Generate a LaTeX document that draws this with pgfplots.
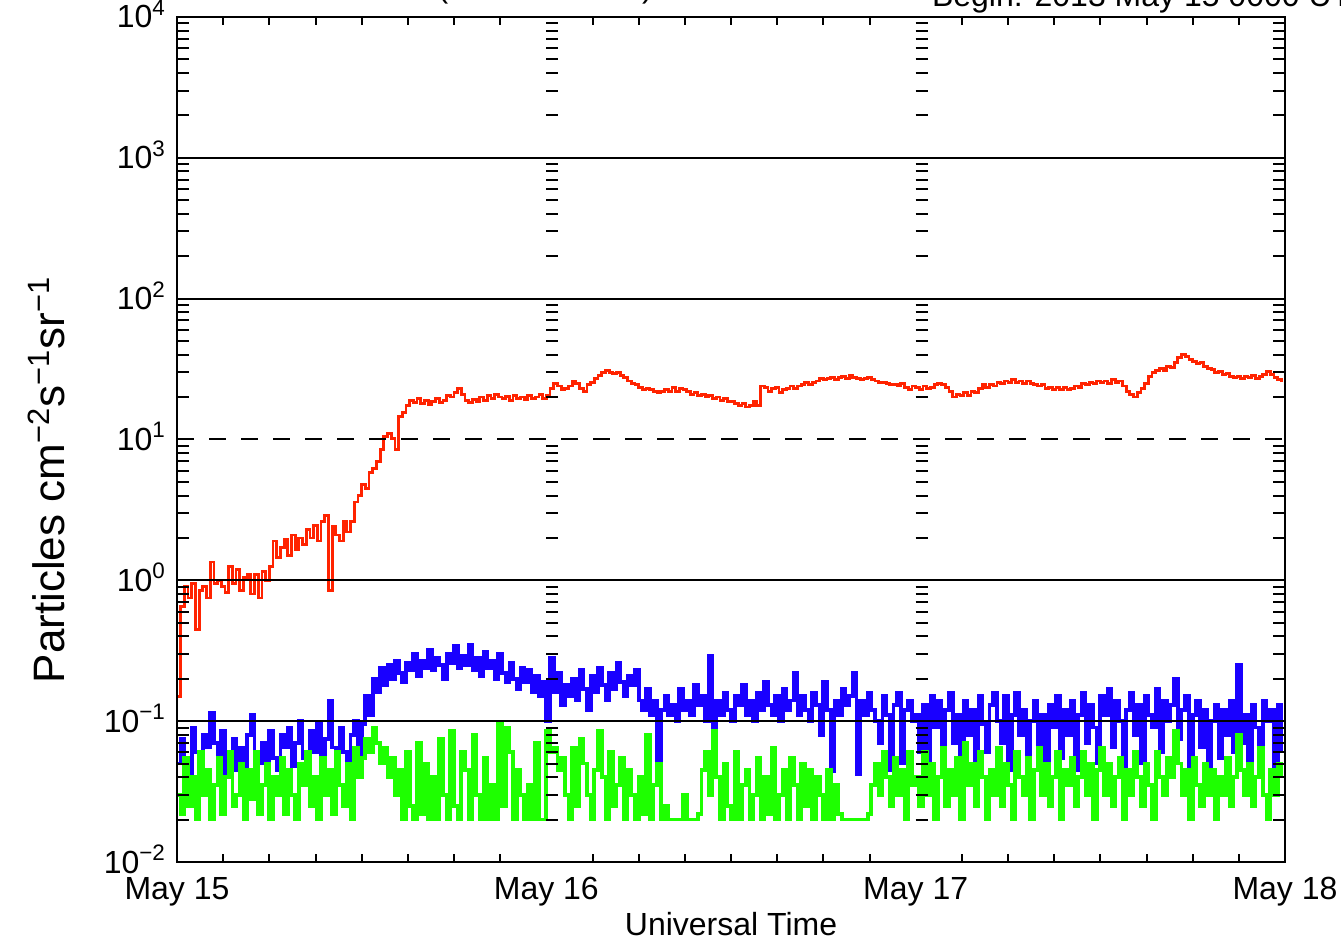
\documentclass[border=0pt]{standalone}
\usepackage{pgfplots}
\pgfplotsset{compat=1.18}
\usepackage{pgfplotstable}
\usepackage{fontspec}
\setmainfont{Liberation Sans}
\definecolor{pred}{RGB}{255,35,0}
\definecolor{pblue}{RGB}{25,0,255}
\definecolor{pgreen}{RGB}{30,255,0}
\newcommand\tickfont{\fontsize{16}{19}\selectfont}

\pgfplotstableread[header=false,row sep=\\]{
0.15\\0.65\\0.90\\0.75\\0.95\\0.45\\0.85\\0.90\\0.75\\1.35\\
0.95\\1.00\\0.90\\0.82\\1.25\\0.95\\1.20\\0.85\\1.05\\1.10\\
0.80\\1.10\\0.75\\1.15\\1.00\\1.25\\1.90\\1.45\\1.70\\1.95\\
1.50\\2.10\\1.65\\2.00\\1.80\\2.30\\2.00\\2.45\\1.90\\2.60\\
2.90\\0.85\\2.40\\2.10\\1.90\\2.60\\2.20\\2.60\\3.60\\4.00\\
4.80\\4.50\\5.80\\6.20\\7.00\\8.50\\10.5\\11.0\\10.2\\8.5\\
14.5\\15.5\\17.5\\19.0\\18.2\\19.5\\18.0\\19.0\\17.8\\18.5\\
19.5\\18.2\\19.0\\20.5\\20.0\\21.5\\23.0\\21.0\\19.0\\18.2\\
19.2\\18.5\\20.0\\19.0\\20.5\\19.5\\21.0\\20.0\\19.5\\20.2\\
19.0\\20.5\\19.5\\20.0\\19.2\\20.5\\19.5\\20.0\\21.0\\19.5\\
20.5\\23.0\\25.0\\24.0\\22.5\\23.0\\24.0\\26.0\\25.0\\23.0\\
22.0\\24.5\\25.5\\27.0\\28.5\\30.0\\31.0\\30.0\\29.5\\30.0\\
28.5\\27.5\\26.0\\25.0\\24.5\\23.5\\22.5\\23.0\\22.5\\22.0\\
21.5\\22.0\\22.5\\22.0\\23.5\\22.0\\23.0\\22.5\\22.0\\21.0\\
21.5\\20.5\\21.0\\20.0\\20.5\\19.5\\20.0\\19.0\\19.5\\18.5\\
18.5\\18.0\\17.5\\18.0\\17.0\\17.5\\18.5\\17.5\\24.0\\23.5\\
22.0\\23.0\\23.5\\21.5\\22.5\\23.0\\24.0\\23.0\\24.0\\24.5\\
25.5\\24.5\\25.5\\26.0\\27.0\\26.5\\27.0\\27.5\\26.5\\27.5\\
28.0\\27.0\\28.5\\27.5\\27.0\\26.5\\27.0\\27.5\\26.5\\26.0\\
25.5\\25.5\\25.0\\24.5\\24.5\\24.0\\25.0\\23.5\\22.5\\24.0\\
23.5\\22.5\\24.0\\23.0\\23.5\\24.5\\25.0\\24.5\\23.5\\22.0\\
20.0\\21.0\\20.5\\21.5\\20.5\\22.0\\21.5\\23.0\\24.5\\23.5\\
24.5\\24.0\\25.5\\25.0\\26.0\\25.5\\26.5\\25.5\\26.0\\25.0\\
26.0\\25.0\\24.5\\24.0\\24.5\\23.0\\23.5\\22.5\\23.5\\22.5\\
23.5\\22.5\\23.0\\24.0\\23.5\\25.0\\24.5\\25.5\\25.0\\26.0\\
25.5\\26.0\\25.0\\26.5\\25.5\\26.0\\24.0\\22.0\\21.0\\20.0\\
21.5\\23.0\\25.0\\28.0\\30.0\\31.0\\32.0\\31.0\\33.0\\32.5\\
35.0\\38.0\\40.0\\39.0\\37.0\\36.0\\34.5\\35.0\\33.0\\32.0\\
31.5\\30.0\\30.5\\29.0\\29.5\\28.0\\27.5\\28.0\\27.0\\28.0\\
27.5\\28.5\\27.0\\28.0\\29.0\\30.5\\29.0\\27.5\\26.5\\25.5\\
}\reddata

\pgfplotstableread[header=false,row sep=\\]{
0.050\\0.075\\0.055\\0.042\\0.090\\0.060\\0.045\\0.080\\0.065\\0.115\\
0.070\\0.050\\0.085\\0.042\\0.060\\0.075\\0.045\\0.065\\0.042\\0.080\\
0.110\\0.060\\0.050\\0.070\\0.042\\0.085\\0.055\\0.045\\0.080\\0.065\\
0.090\\0.048\\0.070\\0.100\\0.055\\0.042\\0.085\\0.060\\0.095\\0.045\\
0.075\\0.140\\0.065\\0.045\\0.090\\0.060\\0.042\\0.080\\0.100\\0.055\\
0.095\\0.150\\0.110\\0.200\\0.160\\0.240\\0.180\\0.250\\0.200\\0.270\\
0.220\\0.190\\0.260\\0.230\\0.300\\0.210\\0.270\\0.240\\0.320\\0.230\\
0.280\\0.250\\0.200\\0.300\\0.260\\0.340\\0.240\\0.290\\0.250\\0.350\\
0.230\\0.280\\0.210\\0.310\\0.240\\0.270\\0.200\\0.300\\0.220\\0.190\\
0.260\\0.200\\0.170\\0.240\\0.190\\0.230\\0.160\\0.210\\0.150\\0.190\\
0.100\\0.280\\0.160\\0.220\\0.130\\0.180\\0.150\\0.200\\0.140\\0.230\\
0.170\\0.120\\0.210\\0.160\\0.240\\0.180\\0.140\\0.220\\0.170\\0.260\\
0.190\\0.150\\0.210\\0.180\\0.230\\0.140\\0.120\\0.170\\0.110\\0.140\\
0.046\\0.120\\0.150\\0.110\\0.130\\0.100\\0.170\\0.120\\0.140\\0.110\\
0.180\\0.130\\0.150\\0.100\\0.290\\0.078\\0.140\\0.110\\0.160\\0.120\\
0.100\\0.150\\0.130\\0.180\\0.110\\0.140\\0.100\\0.160\\0.120\\0.190\\
0.130\\0.110\\0.150\\0.100\\0.170\\0.120\\0.140\\0.220\\0.110\\0.150\\
0.120\\0.100\\0.160\\0.130\\0.080\\0.190\\0.120\\0.044\\0.140\\0.110\\
0.170\\0.130\\0.150\\0.220\\0.042\\0.140\\0.110\\0.160\\0.120\\0.100\\
0.070\\0.150\\0.110\\0.045\\0.130\\0.160\\0.050\\0.120\\0.140\\0.100\\
0.110\\0.060\\0.130\\0.045\\0.150\\0.090\\0.140\\0.055\\0.120\\0.160\\
0.070\\0.110\\0.045\\0.140\\0.080\\0.120\\0.050\\0.150\\0.095\\0.060\\
0.130\\0.160\\0.100\\0.070\\0.150\\0.045\\0.110\\0.160\\0.080\\0.120\\
0.050\\0.100\\0.140\\0.065\\0.110\\0.045\\0.130\\0.090\\0.150\\0.055\\
0.120\\0.080\\0.140\\0.045\\0.110\\0.160\\0.070\\0.130\\0.090\\0.050\\
0.150\\0.110\\0.170\\0.065\\0.140\\0.100\\0.045\\0.120\\0.160\\0.080\\
0.130\\0.050\\0.150\\0.110\\0.090\\0.170\\0.060\\0.140\\0.100\\0.130\\
0.200\\0.075\\0.120\\0.150\\0.045\\0.110\\0.140\\0.065\\0.120\\0.045\\
0.100\\0.130\\0.055\\0.120\\0.080\\0.140\\0.060\\0.250\\0.070\\0.110\\
0.045\\0.130\\0.090\\0.045\\0.140\\0.100\\0.120\\0.045\\0.130\\0.060\\
}\bluedata

\pgfplotstableread[header=false,row sep=\\]{
0.030\\0.022\\0.055\\0.025\\0.040\\0.020\\0.060\\0.030\\0.045\\0.020\\
0.035\\0.055\\0.022\\0.040\\0.060\\0.025\\0.030\\0.050\\0.020\\0.045\\
0.028\\0.060\\0.022\\0.035\\0.050\\0.020\\0.040\\0.030\\0.055\\0.022\\
0.045\\0.030\\0.020\\0.050\\0.035\\0.060\\0.025\\0.040\\0.020\\0.055\\
0.030\\0.045\\0.022\\0.060\\0.035\\0.025\\0.050\\0.020\\0.065\\0.040\\
0.055\\0.075\\0.060\\0.090\\0.070\\0.050\\0.065\\0.040\\0.055\\0.030\\
0.045\\0.020\\0.060\\0.025\\0.020\\0.070\\0.022\\0.050\\0.020\\0.040\\
0.020\\0.075\\0.030\\0.020\\0.085\\0.025\\0.020\\0.060\\0.045\\0.020\\
0.080\\0.030\\0.020\\0.055\\0.020\\0.035\\0.020\\0.095\\0.025\\0.090\\
0.060\\0.020\\0.045\\0.030\\0.020\\0.035\\0.020\\0.070\\0.020\\0.020\\
0.085\\0.060\\0.065\\0.045\\0.055\\0.030\\0.020\\0.065\\0.025\\0.075\\
0.050\\0.030\\0.020\\0.045\\0.085\\0.040\\0.020\\0.060\\0.025\\0.035\\
0.055\\0.020\\0.045\\0.030\\0.020\\0.040\\0.022\\0.080\\0.020\\0.035\\
0.050\\0.020\\0.025\\0.020\\0.020\\0.020\\0.020\\0.030\\0.020\\0.020\\
0.020\\0.022\\0.045\\0.060\\0.030\\0.085\\0.040\\0.020\\0.050\\0.025\\
0.020\\0.060\\0.020\\0.035\\0.045\\0.020\\0.030\\0.055\\0.020\\0.040\\
0.022\\0.065\\0.020\\0.030\\0.045\\0.020\\0.055\\0.035\\0.020\\0.050\\
0.025\\0.045\\0.020\\0.040\\0.030\\0.020\\0.045\\0.020\\0.035\\0.022\\
0.020\\0.020\\0.020\\0.020\\0.020\\0.020\\0.020\\0.022\\0.035\\0.050\\
0.030\\0.060\\0.040\\0.025\\0.055\\0.030\\0.045\\0.020\\0.060\\0.035\\
0.040\\0.025\\0.060\\0.030\\0.050\\0.020\\0.040\\0.065\\0.025\\0.045\\
0.030\\0.055\\0.020\\0.070\\0.035\\0.050\\0.025\\0.060\\0.040\\0.020\\
0.045\\0.030\\0.065\\0.025\\0.050\\0.035\\0.020\\0.060\\0.040\\0.030\\
0.055\\0.020\\0.045\\0.065\\0.030\\0.050\\0.025\\0.040\\0.060\\0.020\\
0.045\\0.035\\0.055\\0.025\\0.040\\0.060\\0.030\\0.050\\0.020\\0.045\\
0.065\\0.030\\0.050\\0.025\\0.040\\0.055\\0.020\\0.045\\0.030\\0.060\\
0.040\\0.025\\0.050\\0.035\\0.020\\0.060\\0.040\\0.030\\0.055\\0.040\\
0.085\\0.050\\0.030\\0.045\\0.020\\0.055\\0.035\\0.025\\0.050\\0.030\\
0.045\\0.020\\0.040\\0.030\\0.055\\0.025\\0.040\\0.080\\0.045\\0.030\\
0.050\\0.025\\0.040\\0.065\\0.030\\0.020\\0.045\\0.030\\0.050\\0.040\\
}\greendata

\begin{document}
\begin{tikzpicture}
\path[use as bounding box] (0,0) rectangle (670.5pt,470pt);
\begin{axis}[
  at={(88.5pt,39pt)}, anchor=south west,
  scale only axis, width=554pt, height=422.5pt,
  xmin=0, xmax=3, ymode=log, ymin=1e-2, ymax=1e4,
  axis on top,
  axis line style={line width=1pt},
  every tick/.style={black, line width=1pt},
  tick align=inside, xtick pos=both, ytick pos=both,
  major tick length=0pt, minor tick length=6pt,
  xtick={0,1,2,3}, xticklabels={May 15,May 16,May 17,May 18},
  extra x ticks={0.125,0.25,0.375,0.5,0.625,0.75,0.875,1.125,1.25,1.375,1.5,1.625,1.75,1.875,2.125,2.25,2.375,2.5,2.625,2.75,2.875},
  extra x tick labels={},
  extra x tick style={major tick length=4pt, xticklabels={}},
  ytick={1e-2,1e-1,1,10,100,1000,1e4},
  yticklabels={10\smash{\textsuperscript{−2}},10\smash{\textsuperscript{−1}},10\smash{\textsuperscript{0}},10\smash{\textsuperscript{1}},10\smash{\textsuperscript{2}},10\smash{\textsuperscript{3}},10\smash{\textsuperscript{4}}},
  minor ytick={0.02,0.03,0.04,0.05,0.06,0.07,0.08,0.09,0.2,0.3,0.4,0.5,0.6,0.7,0.8,0.9,2,3,4,5,6,7,8,9,20,30,40,50,60,70,80,90,200,300,400,500,600,700,800,900,2000,3000,4000,5000,6000,7000,8000,9000},
  x tick label style={font=\tickfont, yshift=-4pt},
  y tick label style={font=\tickfont, xshift=-2pt},
]
\addplot[pred, line width=1.4pt, const plot] table[x expr=\coordindex*0.01, y index=0]{\reddata};
\addplot[pblue, line width=1.9pt, const plot] table[x expr=\coordindex*0.01, y index=0]{\bluedata};
\addplot[pgreen, line width=1.9pt, const plot] table[x expr=\coordindex*0.01, y index=0]{\greendata};
\addplot[black, line width=1pt] coordinates {(0,1000) (3,1000)};
\addplot[black, line width=1pt] coordinates {(0,100) (3,100)};
\addplot[black, line width=1pt] coordinates {(0,1) (3,1)};
\addplot[black, line width=1pt] coordinates {(0,0.1) (3,0.1)};
\addplot[black, line width=1pt, dash pattern=on 8.5pt off 7.5pt] coordinates {(0,10) (3,10)};
\end{axis}
\foreach \xx in {273.1667,457.8333}{
  \foreach \d in {-2,...,3}{
    \foreach \m in {2,...,9}{
      \draw[black, line width=1pt] ({\xx*1pt},{(39+(\d+2+log10(\m))*70.41667)*1pt}) -- ++(6pt,0);
    }
  }
}
\node[anchor=base east, font=\tickfont] at (330pt,471pt) {(5 minute data)};
\node[anchor=base west, font=\tickfont] at (462.5pt,466.5pt) {Begin: 2013 May 15 0000 UTC};
\node[anchor=base, font=\tickfont] at (365.5pt,2pt) {Universal Time};
\node[rotate=90, font=\fontsize{22}{26}\selectfont] at (23pt,230pt) {Particles cm\textsuperscript{−2}s\textsuperscript{−1}sr\textsuperscript{−1}};
\end{tikzpicture}
\end{document}
